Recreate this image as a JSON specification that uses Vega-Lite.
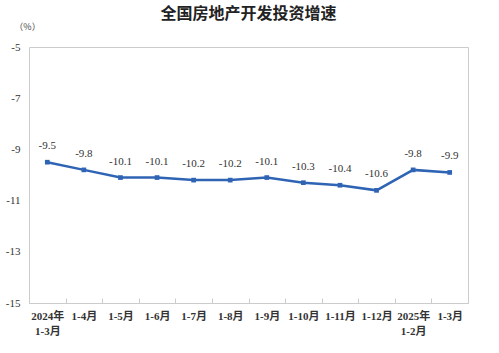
{
  "$schema": "https://vega.github.io/schema/vega-lite/v6.json",
  "width": 439,
  "height": 256,
  "autosize": {"type": "none"},
  "padding": {"left": 29, "top": 47, "right": 31, "bottom": 50},
  "background": "white",
  "title": {
    "text": "全国房地产开发投资增速",
    "font": "Noto Sans CJK SC",
    "fontSize": 16,
    "fontWeight": "bold",
    "color": "#222222",
    "anchor": "middle",
    "offset": 0
  },
  "config": {
    "view": {"stroke": "#cccccc", "strokeWidth": 1},
    "font": "Liberation Serif",
    "locale": {
      "number": {"decimal": ".", "thousands": ",", "grouping": [3], "currency": ["", ""], "minus": "-"}
    }
  },
  "data": {
    "values": [
      {"period": "2024年 1-3月", "value": -9.5},
      {"period": "1-4月", "value": -9.8},
      {"period": "1-5月", "value": -10.1},
      {"period": "1-6月", "value": -10.1},
      {"period": "1-7月", "value": -10.2},
      {"period": "1-8月", "value": -10.2},
      {"period": "1-9月", "value": -10.1},
      {"period": "1-10月", "value": -10.3},
      {"period": "1-11月", "value": -10.4},
      {"period": "1-12月", "value": -10.6},
      {"period": "2025年 1-2月", "value": -9.8},
      {"period": "1-3月", "value": -9.9}
    ]
  },
  "encoding": {
    "x": {
      "field": "period",
      "type": "ordinal",
      "sort": null,
      "scale": {"paddingInner": 0, "paddingOuter": 0},
      "axis": {
        "title": null,
        "labelAngle": 0,
        "labelExpr": "split(datum.label, ' ')",
        "labelFont": "Liberation Serif, Noto Sans CJK SC",
        "labelFontSize": 11,
        "labelFontWeight": "bold",
        "labelColor": "#333333",
        "labelLineHeight": 15,
        "labelPadding": 12,
        "tickBand": "extent",
        "tickSize": -5,
        "tickColor": "#cccccc",
        "domainColor": "#cccccc"
      }
    },
    "y": {
      "field": "value",
      "type": "quantitative",
      "scale": {"domain": [-15, -5], "nice": false},
      "axis": {
        "values": [-15, -13, -11, -9, -7, -5],
        "grid": false,
        "ticks": false,
        "domain": false,
        "labelPadding": 9,
        "labelFont": "Liberation Serif",
        "labelFontSize": 11,
        "labelColor": "#333333",
        "title": "（%）",
        "titleFont": "Noto Sans CJK SC",
        "titleFontSize": 9,
        "titleFontWeight": "normal",
        "titleColor": "#444444",
        "titleAngle": 0,
        "titleX": -2,
        "titleY": -21,
        "titleAlign": "center",
        "titleBaseline": "middle"
      }
    }
  },
  "layer": [
    {
      "mark": {"type": "line", "color": "#2f64b5", "strokeWidth": 2.5}
    },
    {
      "mark": {"type": "point", "shape": "square", "filled": true, "size": 22, "color": "#2f64b5", "opacity": 1}
    },
    {
      "mark": {"type": "text", "dy": -16, "baseline": "middle", "font": "Liberation Serif", "fontSize": 11, "color": "#333333"},
      "encoding": {"text": {"field": "value", "type": "quantitative", "format": ".1f"}}
    }
  ]
}
